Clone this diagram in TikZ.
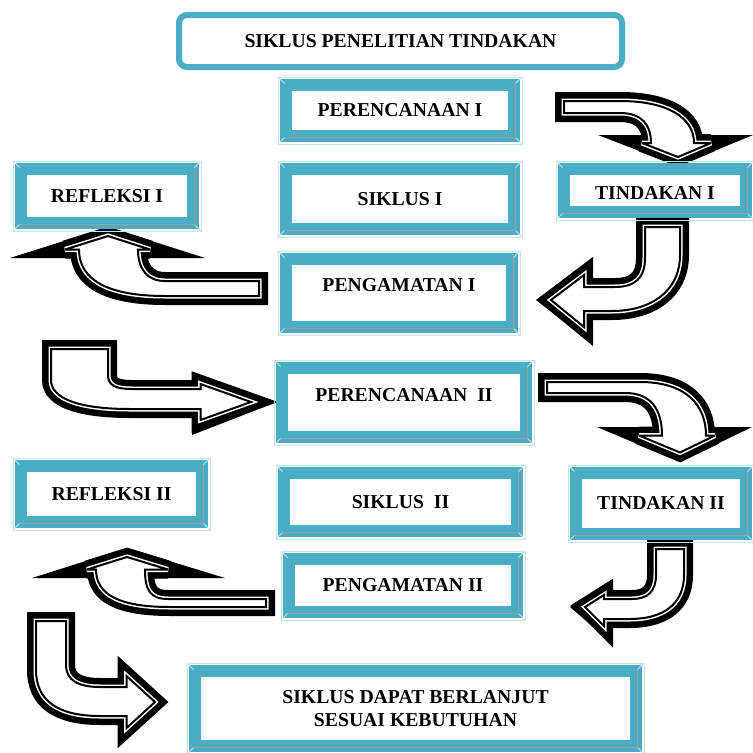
\documentclass[tikz,border=0pt]{standalone}
\usepackage{fontspec}
\setmainfont{Liberation Serif}
\definecolor{boxteal}{HTML}{4BACC6}
\definecolor{bevlight}{HTML}{C4E4EE}
\definecolor{bevgray}{HTML}{A0A0A0}
\newcommand{\boxfont}{\bfseries\fontsize{19.7}{23}\selectfont}
\tikzset{
  framebox/.style={draw=boxteal, line width=12pt, fill=white, inner sep=0pt, align=center, font=\boxfont},
  titlebox/.style={draw=boxteal, line width=6pt, fill=white, rounded corners=8pt, inner sep=0pt, font=\boxfont},
  bendarrow/.style={fill=white, draw=black, line width=2pt, miter limit=4,
    preaction={draw=black, line width=18pt, miter limit=4},
    preaction={draw=white, line width=5pt, miter limit=4}}
}
\begin{document}
\begin{tikzpicture}[x=1pt,y=-1pt]
  \useasboundingbox (0,0) rectangle (753,753);
  % arrows first (black head, then banded body), boxes on top
  \fill (598,135) -- (753,135) -- (678,166) -- cycle;
  \path[bendarrow] (564,101) -- (620,101) .. controls (668,101) and (694,118) .. (694,143) -- (711,143) -- (678,157) -- (642,143) -- (651,143) .. controls (651,125) and (642,113) .. (620,113) -- (564,113) -- cycle;
  \fill (592,260) -- (536,300) -- (592,343) -- cycle;
  \path[bendarrow] (645,227) -- (680,227) -- (680,255) .. controls (680,292) and (650,311) .. (612,311) -- (584,311) -- (584,327) -- (551,300) -- (584,275) -- (584,287) -- (615,287) .. controls (635,287) and (645,278) .. (645,258) -- cycle;
  \fill (10,258) -- (108,227) -- (205,258) -- cycle;
  \path[bendarrow] (259,281) -- (259,296) -- (165,296) .. controls (108,296) and (79,280) .. (79,249.5) -- (65,249.5) -- (108,236) -- (150,249.5) -- (138,249.5) .. controls (138,270) and (148,281) .. (165,281) -- cycle;
  \fill (192,372) -- (277,402) -- (192,435) -- cycle;
  \path[bendarrow] (51,349) -- (108,349) -- (108,375) .. controls (108,385) and (115,389) .. (132,389) -- (200.5,389) -- (200.5,384) -- (251,402) -- (200.5,420) -- (200.5,409) -- (130,409) .. controls (80,409) and (51,399) .. (51,380) -- cycle;
  \fill (597,427) -- (752,427) -- (680,462) -- cycle;
  \path[bendarrow] (547,382) -- (640,382) .. controls (686,382) and (706,405) .. (706,435.5) -- (715,435.5) -- (680,452.5) -- (639,435.5) -- (662,435.5) .. controls (662,408) and (650,393) .. (625,393) -- (547,393) -- cycle;
  \fill (612,582) -- (570,607) -- (612,643) -- cycle;
  \path[bendarrow] (656,549) -- (684,549) -- (684,575) .. controls (684,605) and (662,619) .. (630,619) -- (604,619) -- (604,626) -- (585,607) -- (604,595) -- (604,599) -- (632,599) .. controls (648,599) and (656,591) .. (656,575) -- cycle;
  \fill (32,578) -- (127,548) -- (225,578) -- cycle;
  \path[bendarrow] (266,599) -- (266,607) -- (170,607) .. controls (120,607) and (96,595) .. (96,569.5) -- (87,569.5) -- (127,557) -- (168,569.5) -- (145,569.5) .. controls (145,590) and (150,599) .. (168,599) -- cycle;
  \fill (118,657) -- (168,702) -- (118,747) -- cycle;
  \path[bendarrow] (36,621) -- (66,621) -- (66,665) .. controls (66,680) and (78,687) .. (100,687) -- (126.5,687) -- (126.5,676) -- (155,702) -- (126.5,728) -- (126.5,716) -- (100,716) .. controls (57,716) and (36,700) .. (36,670) -- cycle;

  \node[titlebox, minimum width=443pt, minimum height=52pt] (title) at (400.5,41) {SIKLUS PENELITIAN TINDAKAN};
  \node[framebox, minimum width=228pt, minimum height=51pt] (plan1) at (400,110.5) {PERENCANAAN I};
  \node[framebox, minimum width=182pt, minimum height=43pt, text height=18pt] (act1) at (655,190.5) {TINDAKAN I};
  \node[framebox, minimum width=228pt, minimum height=60pt] (cyc1) at (400,199) {SIKLUS I};
  \node[framebox, minimum width=172pt, minimum height=54pt] (ref1) at (107,196) {REFLEKSI I};
  \node[framebox, minimum width=226pt, minimum height=68pt, text depth=16pt] (obs1) at (399,293) {PENGAMATAN I};
  \node[framebox, minimum width=244pt, minimum height=69pt, text depth=15pt] (plan2) at (404,402.5) {PERENCANAAN~~II};
  \node[framebox, minimum width=181pt, minimum height=56pt] (ref2) at (111.5,494) {REFLEKSI II};
  \node[framebox, minimum width=233pt, minimum height=58pt] (cyc2) at (400.5,502) {SIKLUS~~II};
  \node[framebox, minimum width=170pt, minimum height=61pt] (act2) at (661,503.5) {TINDAKAN II};
  \node[framebox, minimum width=228pt, minimum height=53pt] (obs2) at (403,585.5) {PENGAMATAN II};
  \node[framebox, minimum width=441pt, minimum height=75pt] (cont) at (415.5,708.5) {SIKLUS DAPAT BERLANJUT\\SESUAI KEBUTUHAN};

  \foreach \n in {plan1,act1,cyc1,ref1,obs1,plan2,ref2,cyc2,act2,obs2,cont}{
    \draw[bevlight, line width=0.8pt] ([shift={(-2,-2)}]\n.north west) rectangle ([shift={(2,2)}]\n.south east);
    \draw[bevlight, line width=0.8pt] ([shift={(-2,-2)}]\n.north west) -- ([shift={(4.5,4.5)}]\n.north west)
      ([shift={(2,-2)}]\n.north east) -- ([shift={(-4.5,4.5)}]\n.north east)
      ([shift={(2,2)}]\n.south east) -- ([shift={(-4.5,-4.5)}]\n.south east)
      ([shift={(-2,2)}]\n.south west) -- ([shift={(4.5,-4.5)}]\n.south west);
    \draw[bevgray, line width=1.5pt] ([shift={(-4.5,4.5)}]\n.north east) -- ([shift={(-4.5,-4.5)}]\n.south east) -- ([shift={(4.5,-4.5)}]\n.south west);
  }
\end{tikzpicture}
\end{document}
